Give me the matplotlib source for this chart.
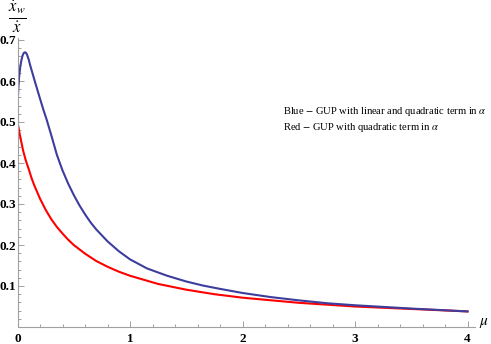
import numpy as np
import matplotlib
matplotlib.use("Agg")
import matplotlib.pyplot as plt

# values
mu_blue = [0.0, 0.001, 0.003, 0.007, 0.015, 0.025, 0.035, 0.045, 0.055, 0.065,
           0.075, 0.085, 0.1, 0.114, 0.13, 0.15, 0.175, 0.2, 0.23, 0.26,
           0.3, 0.35, 0.4, 0.45, 0.5, 0.55, 0.6, 0.65, 0.7, 0.8,
           0.9, 1.0, 1.15, 1.33, 1.5, 1.65, 1.8, 2.0, 2.25, 2.5,
           2.75, 3.0, 3.5, 4.0]
ratio_blue = [0.50, 0.53, 0.555, 0.58, 0.612, 0.635, 0.651, 0.662, 0.668, 0.670,
              0.669, 0.664, 0.652, 0.637, 0.622, 0.603, 0.580, 0.557, 0.530, 0.505,
              0.468, 0.42, 0.382, 0.35, 0.322, 0.297, 0.275, 0.255, 0.238, 0.209,
              0.185, 0.165, 0.143, 0.125, 0.111, 0.101, 0.093, 0.083, 0.073, 0.065,
              0.058, 0.053, 0.045, 0.038]

mu_red = [0.0, 0.01, 0.02, 0.035, 0.05, 0.075, 0.1, 0.125, 0.15, 0.2,
          0.25, 0.3, 0.35, 0.4, 0.45, 0.5, 0.6, 0.7, 0.8, 0.9,
          1.0, 1.25, 1.5, 1.75, 2.0, 2.5, 3.0, 3.5, 4.0]
ratio_red = [0.50, 0.485, 0.47, 0.45, 0.43, 0.405, 0.385, 0.363, 0.345, 0.313,
             0.286, 0.263, 0.244, 0.228, 0.213, 0.20, 0.179, 0.161, 0.147, 0.135,
             0.125, 0.105, 0.091, 0.080, 0.0715, 0.059, 0.050, 0.044, 0.038]

x_ticks = [0, 1, 2, 3, 4]
y_ticks = [0.1, 0.2, 0.3, 0.4, 0.5, 0.6, 0.7]

legend_lines = [r"Blue $-$ GUP with linear and quadratic term in $\alpha$",
                r"Red $-$ GUP with quadratic term in $\alpha$"]

plt.rcParams['mathtext.fontset'] = 'stix'
W, H = 491, 344
fig = plt.figure(figsize=(W / 100, H / 100), dpi=100)
x0, x1 = 17.5, 475.0
y0, y1 = 327.0, 38.0
ax = fig.add_axes([x0 / W, 1 - y0 / H, (x1 - x0) / W, (y0 - y1) / H])
ax.set_xlim(0, (x1 - x0) / 112.5)
ax.set_ylim(0, (y0 - y1) / 410.0)

ax.plot(mu_red, ratio_red, color='#ff0000', lw=1.5)
ax.plot(mu_blue, ratio_blue, color='#3d3d9e', lw=1.5)

for s in ['top', 'right']:
    ax.spines[s].set_visible(False)
for s in ['left', 'bottom']:
    ax.spines[s].set_color('#a0a0a0')
    ax.spines[s].set_linewidth(0.8)

ax.set_xticks(x_ticks)
ax.set_xticks(np.arange(0.2, 4.01, 0.2), minor=True)
ax.set_yticks(y_ticks)
ax.set_yticks(np.arange(0.02, 0.701, 0.02), minor=True)
ax.tick_params(which='both', direction='in', color='#a0a0a0', width=0.7)
ax.tick_params(which='major', length=4)
ax.tick_params(which='minor', length=2)
ax.tick_params(axis='x', pad=4)
ax.tick_params(axis='y', pad=1)
ax.set_xticklabels([str(t) for t in x_ticks])
ax.set_yticklabels([f'{t:.1f}' for t in y_ticks])
for lab in ax.get_xticklabels() + ax.get_yticklabels():
    lab.set_fontfamily('Liberation Serif')
    lab.set_fontweight('bold')
    lab.set_fontsize(9.5)

fig.text(484 / W, 1 - 322 / H, r'$\mu$', fontsize=11, ha='center', va='center')
fig.text(17 / W, 1 - 17 / H, r'$\frac{\dot{x}_w}{\dot{x}}$', fontsize=17,
         ha='center', va='center')

for i, txt in enumerate(legend_lines):
    fig.text(283 / W, 1 - (112 + 16 * i) / H, txt, fontsize=7.6,
             family='Liberation Serif', ha='left', va='center')

fig.savefig('out.png', dpi=100)
